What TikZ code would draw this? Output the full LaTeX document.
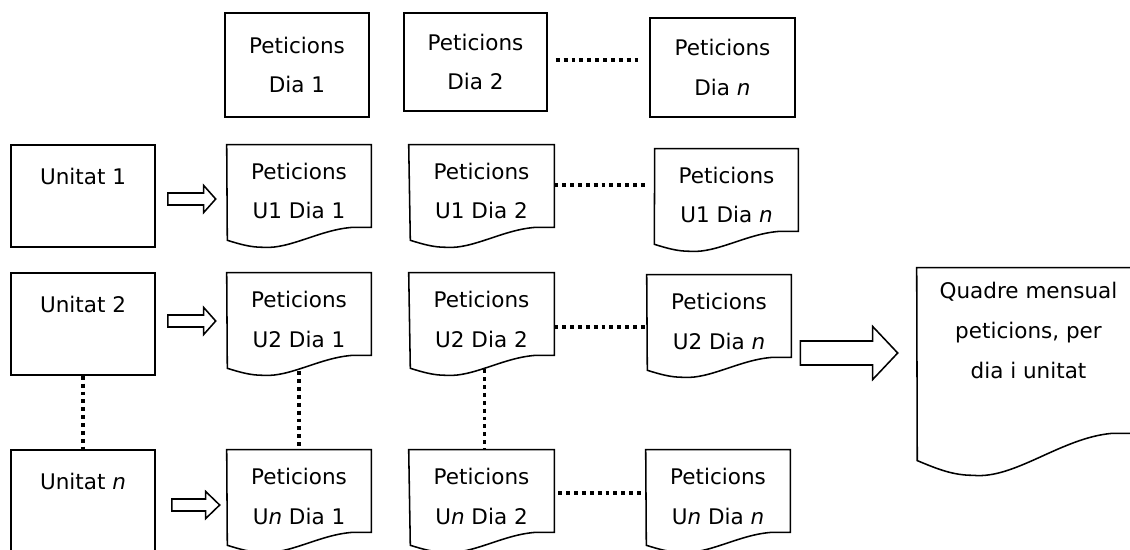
\documentclass[tikz,border=0pt]{standalone}
\usepackage{fontspec}
\setmainfont{DejaVu Sans}
\usetikzlibrary{calc}

\tikzset{
  txt/.style={inner sep=0pt, align=center, font=\fontsize{15.3}{28.4}\selectfont},
  box/.style={txt, draw, line width=1.1pt},
  docbox/.style={txt, minimum width=3.6cm, minimum height=2.3cm},
  unitbox/.style={box, minimum width=3.6cm, minimum height=2.55cm},
  dots/.style={line width=2.4pt, dash pattern=on 2.8pt off 2.8pt},
}

% document outline: node, x scale, y scale, lift of the right corner
\newcommand\docoutline[4]{%
  \draw[line width=1.1pt, line join=miter] (#1.north west) -- (#1.north east)
    -- ($(#1.south east)+(0,-#4)$) -- ++(-18*#2,0)
    .. controls +(-33*#2,2*#3) and +(27*#2,2*#3) .. ++(-90*#2,20*#3)
    .. controls +(-13*#2,0) and +(13*#2,4*#3) .. ++(-36*#2,-7*#3) -- cycle;
}
% hollow arrow: tail, tip, shaft half width, head half width, head length
\newcommand\blockarrow[5]{%
  \draw[line width=1.1pt, line join=miter] ($(#1)+(0,-#3)$) -- ($(#2)+(-#5,-#3)$)
    -- ($(#2)+(-#5,-#4)$) -- (#2) -- ($(#2)+(-#5,#4)$) -- ($(#2)+(-#5,#3)$)
    -- ($(#1)+(0,#3)$) -- cycle;
}

\begin{document}
\begin{tikzpicture}[x=0.025cm, y=-0.025cm]
  \useasboundingbox (0,0) rectangle (1130,549);
  \clip (0,0) rectangle (1130,549);

  \node[box, minimum width=3.6cm,   minimum height=2.6cm]   (D1) at (297,65)   {Peticions\\Dia 1};
  \node[box, minimum width=3.575cm, minimum height=2.45cm]  (D2) at (475.5,62) {Peticions\\Dia 2};
  \node[box, minimum width=3.625cm, minimum height=2.475cm] (Dn) at (722.5,67.5) {Peticions\\Dia \textit{n}};

  \node[unitbox] (U1) at (83,196) {Unitat 1\\\mbox{}};
  \node[unitbox] (U2) at (83,324) {Unitat 2\\\mbox{}};
  \node[unitbox] (Un) at (83,501) {Unitat \textit{n}\\\mbox{}};

  \node[docbox] (P11) at (299,191)   {Peticions\\U1 Dia 1};
  \node[docbox, minimum width=3.625cm] (P12) at (481.5,191) {Peticions\\U1 Dia 2};
  \node[docbox, minimum width=3.575cm] (P1n) at (726.5,195) {Peticions\\U1 Dia \textit{n}};
  \node[docbox] (P21) at (299,319)   {Peticions\\U2 Dia 1};
  \node[docbox, minimum width=3.625cm] (P22) at (481.5,319) {Peticions\\U2 Dia 2};
  \node[docbox] (P2n) at (719,321)   {Peticions\\U2 Dia \textit{n}};
  \node[docbox] (Pn1) at (299,496)   {Peticions\\U\textit{n} Dia 1};
  \node[docbox, minimum width=3.625cm] (Pn2) at (481.5,496) {Peticions\\U\textit{n} Dia 2};
  \node[docbox] (Pnn) at (718,496)   {Peticions\\U\textit{n} Dia \textit{n}};

  \node[txt, minimum width=5.575cm, minimum height=4.125cm] (Q) at (1028.5,350.5)
    {Quadre mensual\\peticions, per\\dia i unitat\\\mbox{}};

  \foreach \p in {P11,P12,P1n,P21,P22,P2n,Pn1,Pn2,Pnn}
    \docoutline{\p}{1}{1}{10};
  \docoutline{Q}{1.549}{2.1}{0}

  \draw[dots] ($(D2.east)+(8,-2)$) -- ($(Dn.west |- D2.east)+(-7,-2)$);
  \draw[dots] ($(P12.east)+(0,-6)$) -- ($(P1n.west |- P12.east)+(-10,-6)$);
  \draw[dots] ($(P22.east)+(0,8)$) -- ($(P2n.west |- P22.east)+(0,8)$);
  \draw[dots] ($(Pn2.east)+(4,-3)$) -- ($(Pnn.west |- Pn2.east)+(-4,-3)$);
  \draw[dots] (U2.south) -- (Un.north);
  \draw[dots] ($(P21.south)+(0,6)$) -- (Pn1.north);
  \draw[dots] ($(P22.south)+(3,4)$) -- ($(Pn2.north)+(3,0)$);

  \coordinate (a1) at ($(U1.east)+(12,3)$);
  \coordinate (b1) at ($(a1 -| P11.west)+(-11,0)$);
  \coordinate (a2) at ($(U2.east)+(12,-3)$);
  \coordinate (b2) at ($(a2 -| P21.west)+(-11,0)$);
  \coordinate (an) at ($(Un.east)+(16,4)$);
  \coordinate (bn) at ($(an -| Pn1.west)+(-7,0)$);
  \coordinate (aq) at ($(P2n.east)+(9,32)$);
  \coordinate (bq) at ($(aq -| Q.west)+(-19,0)$);
  \blockarrow{a1}{b1}{6}{13.5}{12}
  \blockarrow{a2}{b2}{6}{13.5}{12}
  \blockarrow{an}{bn}{6}{13.5}{14}
  \blockarrow{aq}{bq}{12}{26.5}{25}
\end{tikzpicture}
\end{document}
